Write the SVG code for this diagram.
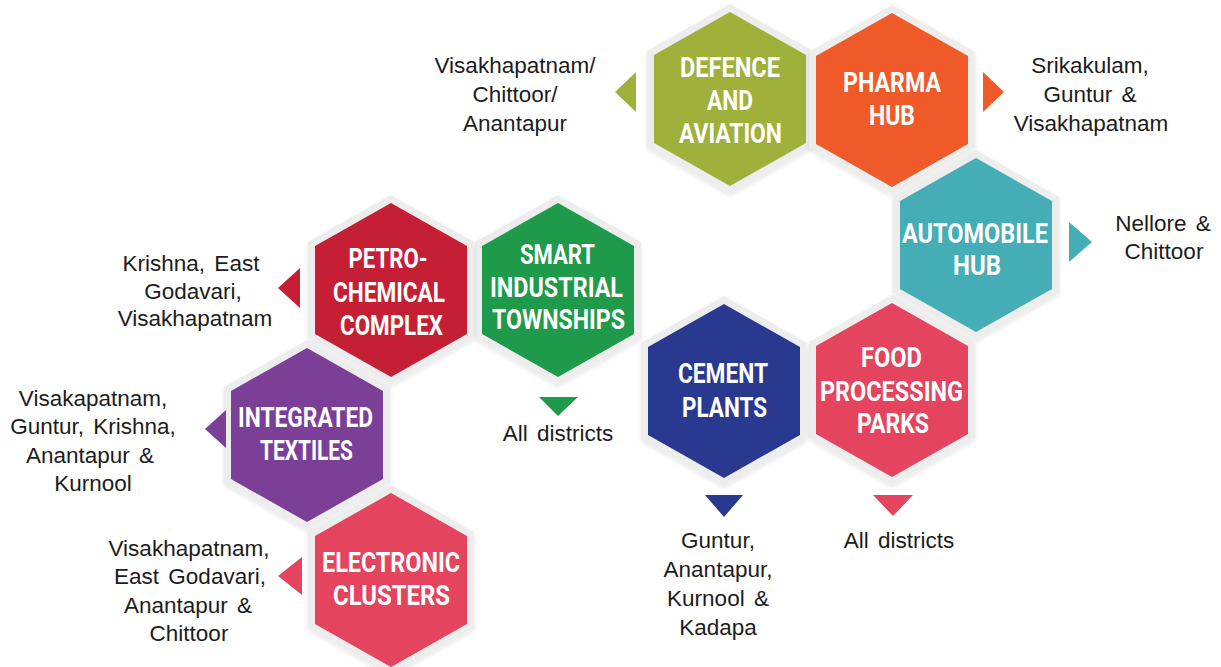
<svg xmlns="http://www.w3.org/2000/svg" xmlns:xlink="http://www.w3.org/1999/xlink" width="1221" height="667" viewBox="0 0 1221 667">
<defs>
<polygon id="hexOut" points="0,-95 83,-48 83,48 0,95 -83,48 -83,-48"/>
<polygon id="hexIn" points="0,-87 76,-44 76,44 0,87 -76,44 -76,-44"/>
<filter id="sh" x="-20%" y="-20%" width="140%" height="140%">
<feDropShadow dx="0" dy="2" stdDeviation="2" flood-color="#000" flood-opacity="0.1"/>
</filter>
</defs>
<style>
.rim{fill:#ededed;filter:url(#sh)}
.t{font-family:Roboto,"Liberation Sans",sans-serif;font-weight:700;font-size:27px;fill:#ffffff;text-anchor:middle}
.l{font-family:"Liberation Sans",Arial,sans-serif;font-size:22.5px;fill:#1c1c1c;text-anchor:middle;word-spacing:3px}
.olive{fill:#9fb13b}.orange{fill:#f05a28}.teal{fill:#45adb6}.pink{fill:#e4445e}
.navy{fill:#2a3990}.green{fill:#1f9a4a}.crimson{fill:#c51f36}.purple{fill:#7c3f98}
</style>
<rect width="1221" height="667" fill="#ffffff"/>

<g id="rims">
<use href="#hexOut" class="rim" x="730" y="99"/>
<use href="#hexOut" class="rim" x="892" y="100"/>
<use href="#hexOut" class="rim" x="976" y="245"/>
<use href="#hexOut" class="rim" x="892" y="390"/>
<use href="#hexOut" class="rim" x="724" y="391"/>
<use href="#hexOut" class="rim" x="558" y="290"/>
<use href="#hexOut" class="rim" x="391" y="290"/>
<use href="#hexOut" class="rim" x="307" y="435"/>
<use href="#hexOut" class="rim" x="391" y="580"/>
</g>

<g id="node-defence">
<use href="#hexIn" class="olive" x="730" y="99"/>
<text class="t" x="730" y="77" textLength="100" lengthAdjust="spacingAndGlyphs">DEFENCE</text>
<text class="t" x="730" y="110" textLength="46" lengthAdjust="spacingAndGlyphs">AND</text>
<text class="t" x="730.5" y="143" textLength="103" lengthAdjust="spacingAndGlyphs">AVIATION</text>
</g>
<g id="node-pharma">
<use href="#hexIn" class="orange" x="892" y="100"/>
<text class="t" x="892" y="92" textLength="98" lengthAdjust="spacingAndGlyphs">PHARMA</text>
<text class="t" x="892" y="125" textLength="46" lengthAdjust="spacingAndGlyphs">HUB</text>
</g>
<g id="node-automobile">
<use href="#hexIn" class="teal" x="976" y="245"/>
<text class="t" x="975" y="243" textLength="146" lengthAdjust="spacingAndGlyphs">AUTOMOBILE</text>
<text class="t" x="977" y="275" textLength="48" lengthAdjust="spacingAndGlyphs">HUB</text>
</g>
<g id="node-food">
<use href="#hexIn" class="pink" x="892" y="390"/>
<text class="t" x="891.5" y="367" textLength="61" lengthAdjust="spacingAndGlyphs">FOOD</text>
<text class="t" x="891.5" y="401" textLength="143" lengthAdjust="spacingAndGlyphs">PROCESSING</text>
<text class="t" x="893" y="433" textLength="72" lengthAdjust="spacingAndGlyphs">PARKS</text>
</g>
<g id="node-cement">
<use href="#hexIn" class="navy" x="724" y="391"/>
<text class="t" x="723" y="383" textLength="90" lengthAdjust="spacingAndGlyphs">CEMENT</text>
<text class="t" x="724.5" y="417" textLength="85" lengthAdjust="spacingAndGlyphs">PLANTS</text>
</g>
<g id="node-smart">
<use href="#hexIn" class="green" x="558" y="290"/>
<text class="t" x="557.5" y="264" textLength="75" lengthAdjust="spacingAndGlyphs">SMART</text>
<text class="t" x="556.5" y="297" textLength="133" lengthAdjust="spacingAndGlyphs">INDUSTRIAL</text>
<text class="t" x="558.5" y="329" textLength="133" lengthAdjust="spacingAndGlyphs">TOWNSHIPS</text>
</g>
<g id="node-petro">
<use href="#hexIn" class="crimson" x="391" y="290"/>
<text class="t" x="388" y="268" textLength="79" lengthAdjust="spacingAndGlyphs">PETRO-</text>
<text class="t" x="389" y="302" textLength="112" lengthAdjust="spacingAndGlyphs">CHEMICAL</text>
<text class="t" x="391.5" y="335" textLength="103" lengthAdjust="spacingAndGlyphs">COMPLEX</text>
</g>
<g id="node-textiles">
<use href="#hexIn" class="purple" x="307" y="435"/>
<text class="t" x="305.5" y="427" textLength="135" lengthAdjust="spacingAndGlyphs">INTEGRATED</text>
<text class="t" x="306.5" y="460" textLength="93" lengthAdjust="spacingAndGlyphs">TEXTILES</text>
</g>
<g id="node-electronic">
<use href="#hexIn" class="pink" x="391" y="580"/>
<text class="t" x="391" y="572" textLength="138" lengthAdjust="spacingAndGlyphs">ELECTRONIC</text>
<text class="t" x="391.5" y="605" textLength="117" lengthAdjust="spacingAndGlyphs">CLUSTERS</text>
</g>

<g id="connectors">
<polygon class="olive" points="615,92 636,72 636,112"/>
<polygon class="orange" points="983,72 983,112 1004,92"/>
<polygon class="teal" points="1069,222 1069,262 1092,242"/>
<polygon class="crimson" points="278,288 300,268 300,308"/>
<polygon class="green" points="539,397 578,397 558,416"/>
<polygon class="navy" points="705,495 743,495 724,517"/>
<polygon class="pink" points="873,495 913,495 893,516"/>
<polygon class="purple" points="205,429 226,410 226,448"/>
<polygon class="pink" points="278,576 302,557 302,595"/>
</g>

<g id="labels">
<g id="label-defence">
<text class="l" x="515" y="73">Visakhapatnam/</text>
<text class="l" x="515" y="102">Chittoor/</text>
<text class="l" x="515" y="131">Anantapur</text>
</g>
<g id="label-pharma">
<text class="l" x="1090" y="73">Srikakulam,</text>
<text class="l" x="1090" y="102">Guntur &amp;</text>
<text class="l" x="1091" y="131">Visakhapatnam</text>
</g>
<g id="label-automobile">
<text class="l" x="1163" y="231">Nellore &amp;</text>
<text class="l" x="1164" y="259">Chittoor</text>
</g>
<g id="label-petro">
<text class="l" x="191" y="271">Krishna, East</text>
<text class="l" x="193" y="299">Godavari,</text>
<text class="l" x="195" y="326">Visakhapatnam</text>
</g>
<g id="label-textiles">
<text class="l" x="93" y="406">Visakapatnam,</text>
<text class="l" x="93" y="434">Guntur, Krishna,</text>
<text class="l" x="90" y="463">Anantapur &amp;</text>
<text class="l" x="93" y="491">Kurnool</text>
</g>
<g id="label-electronic">
<text class="l" x="189" y="556">Visakhapatnam,</text>
<text class="l" x="190" y="584">East Godavari,</text>
<text class="l" x="188" y="613">Anantapur &amp;</text>
<text class="l" x="189" y="641">Chittoor</text>
</g>
<g id="label-smart">
<text class="l" x="558" y="441">All districts</text>
</g>
<g id="label-cement">
<text class="l" x="718" y="548">Guntur,</text>
<text class="l" x="718" y="577">Anantapur,</text>
<text class="l" x="718" y="606">Kurnool &amp;</text>
<text class="l" x="718" y="635">Kadapa</text>
</g>
<g id="label-food">
<text class="l" x="899" y="548">All districts</text>
</g>
</g>
</svg>
